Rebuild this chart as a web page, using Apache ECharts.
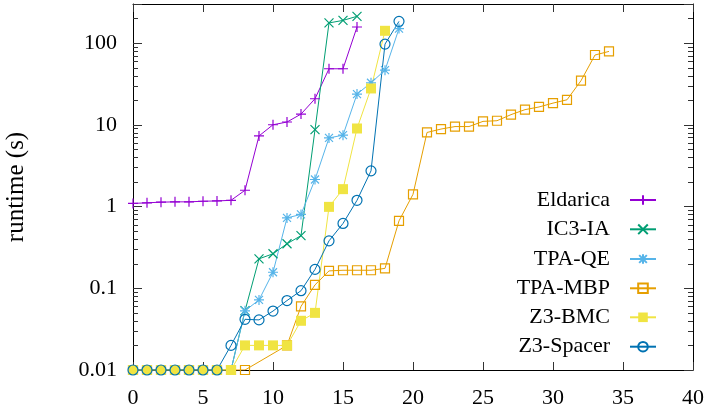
<!DOCTYPE html>
<html><head><meta charset="utf-8">
<script src="https://cdn.jsdelivr.net/npm/echarts@6/dist/echarts.min.js"></script>
<style>html,body{margin:0;padding:0;background:#fff}#c{width:704px;height:412px}</style>
</head><body><div id="c"></div>
<script>
const seriesNames = ['Eldarica', 'IC3-IA', 'TPA-QE', 'TPA-MBP', 'Z3-BMC', 'Z3-Spacer'];
const eldarica = [1.09, 1.11, 1.13, 1.14, 1.14, 1.16, 1.17, 1.19, 1.58, 7.3, 10, 10.8, 13.5, 20.8, 48.4, 48.4, 157];
const ic3ia = [0.01, 0.01, 0.01, 0.01, 0.01, 0.01, 0.01, 0.01, 0.053, 0.229, 0.264, 0.35, 0.44, 8.7, 176, 189, 212];
const tpaqe = [0.01, 0.01, 0.01, 0.01, 0.01, 0.01, 0.01, 0.01, 0.053, 0.072, 0.157, 0.725, 0.80, 2.14, 6.9, 7.46, 23.7, 32.6, 46.5, 150];
const tpambp = [0.01, 0.01, 0.01, 0.01, 0.01, 0.01, 0.01, 0.01, 0.01, null, null, 0.02, 0.06, 0.11, 0.163, 0.166, 0.166, 0.166, 0.175, 0.667, 1.41, 8.05, 8.86, 9.5, 9.5, 11.0, 11.2, 13.3, 15.3, 16.5, 18.4, 20.2, 34.6, 71.3, 78.9];
const z3bmc = [0.01, 0.01, 0.01, 0.01, 0.01, 0.01, 0.01, 0.01, 0.02, 0.02, 0.02, 0.02, 0.04, 0.05, 0.99, 1.63, 9.0, 27.8, 141];
const z3spacer = [0.01, 0.01, 0.01, 0.01, 0.01, 0.01, 0.01, 0.02, 0.0417, 0.041, 0.0526, 0.0707, 0.0933, 0.170, 0.38, 0.62, 1.19, 2.73, 97, 184];
const xTicks = [0, 5, 10, 15, 20, 25, 30, 35, 40];
const yTickLabels = ['0.01', '0.1', '1', '10', '100'];

const colors = ['#9400d3', '#009e73', '#56b4e9', '#e69f00', '#f0e442', '#0072b2'];
const symbols = [
  'path://M0,5H10M5,0V10',
  'path://M0,0L10,10M10,0L0,10',
  'path://M0,5H10M5,0V10M1,1L9,9M9,1L1,9',
  'path://M0,0H10V10H0Z',
  'rect',
  'path://M10,5A5,5,0,1,1,0,5A5,5,0,1,1,10,5Z'
];
const sizes = [10, 9, 10, 9, 10, 10];
const allData = [eldarica, ic3ia, tpaqe, tpambp, z3bmc, z3spacer];
const FONT = 'Liberation Serif';

const minorVals = [];
for (let k = -2; k <= 2; k++) for (let m = 2; m <= 9; m++) {
  const v = m * Math.pow(10, k);
  if (v <= 300) minorVals.push([0, v]);
}

const series = allData.map((arr, i) => ({
  name: seriesNames[i],
  type: 'line',
  data: arr.map((v, j) => [j, v]),
  connectNulls: true,
  symbol: symbols[i],
  symbolSize: sizes[i],
  showAllSymbol: true,
  animation: false,
  lineStyle: { color: colors[i], width: 1 },
  itemStyle: i === 4 ? { color: colors[i], borderWidth: 0 } : { color: 'rgba(0,0,0,0)', borderColor: colors[i], borderWidth: 1.2 },
  emphasis: { disabled: true }
}));
series.push({
  type: 'custom', name: 'minor', silent: true, animation: false, z: 5,
  data: minorVals,
  renderItem: (params, api) => {
    const p = api.coord([0, api.value(1)]);
    const cs = params.coordSys;
    const y = Math.round(p[1]) + 0.5;
    const st = { stroke: '#333', lineWidth: 1 };
    return { type: 'group', children: [
      { type: 'line', shape: { x1: cs.x, y1: y, x2: cs.x + 5, y2: y }, style: st },
      { type: 'line', shape: { x1: cs.x + cs.width, y1: y, x2: cs.x + cs.width - 5, y2: y }, style: st }
    ]};
  }
});

const richS = { fontFamily: FONT, fontSize: 22, color: '#000', lineHeight: 22 };
const legendCenters = [200, 229.3, 259, 288.3, 317.3, 346.7];
const legends = seriesNames.map((n, i) => ({
  data: [n], orient: 'horizontal', align: 'right', right: 47, top: legendCenters[i] - 11,
  padding: 0, itemWidth: 26, itemHeight: 12, selectedMode: false,
  formatter: name => '{s|' + name + '}',
  textStyle: { fontFamily: FONT, fontSize: 22, color: '#000', rich: { s: Object.assign({ padding: [0, 15, 0, 0] }, richS) } }
}));

const isPow10 = v => { const l = Math.log10(v); return Math.abs(l - Math.round(l)) < 1e-6; };
const yLabelFmt = v => { if (!isPow10(v)) return ''; const e = Math.round(Math.log10(v)); const t = yTickLabels[e + 2]; return t ? '{s|' + t + '}' : ''; };
const xLabelFmt = v => '{s|' + v + '}';
const tickStyle = { color: '#333', width: 1 };

const chart = echarts.init(document.getElementById('c'), null, { renderer: 'canvas' });
chart.setOption({
  animation: false,
  backgroundColor: '#fff',
  textStyle: { fontFamily: FONT },
  grid: { left: 133, right: 11, top: 4, bottom: 42, containLabel: false, outerBoundsMode: 'none' },
  legend: legends,
  xAxis: [
    { type: 'value', min: xTicks[0], max: xTicks[xTicks.length - 1], interval: 5, position: 'bottom',
      axisLine: { show: true, onZero: false, lineStyle: { color: '#000', width: 1 } },
      axisTick: { show: true, inside: true, length: 8, lineStyle: tickStyle },
      splitLine: { show: false },
      axisLabel: { margin: 17, formatter: xLabelFmt, fontFamily: FONT, fontSize: 22, color: '#000', rich: { s: richS } } },
    { type: 'value', min: xTicks[0], max: xTicks[xTicks.length - 1], interval: 5, position: 'top',
      axisLine: { show: true, onZero: false, lineStyle: { color: '#000', width: 1 } },
      axisTick: { show: true, inside: true, length: 8, lineStyle: tickStyle },
      splitLine: { show: false }, axisLabel: { show: false } }
  ],
  yAxis: [
    { type: 'log', logBase: 10, min: 0.01, max: 300, position: 'left',
      name: 'runtime (s)', nameLocation: 'middle', nameRotate: 90, nameGap: 104,
      nameTextStyle: { fontFamily: FONT, fontSize: 25, color: '#000' },
      axisLine: { show: true, onZero: false, lineStyle: { color: '#000', width: 1 } },
      axisTick: { show: true, inside: true, length: 9, lineStyle: tickStyle },
      splitLine: { show: false },
      axisLabel: { margin: 16, formatter: yLabelFmt, fontFamily: FONT, fontSize: 22, color: '#000', rich: { s: richS } } },
    { type: 'log', logBase: 10, min: 0.01, max: 300, position: 'right',
      axisLine: { show: true, onZero: false, lineStyle: { color: '#000', width: 1 } },
      axisTick: { show: true, inside: true, length: 9, lineStyle: tickStyle },
      splitLine: { show: false }, axisLabel: { show: false } }
  ],
  series: series
});
</script></body></html>
